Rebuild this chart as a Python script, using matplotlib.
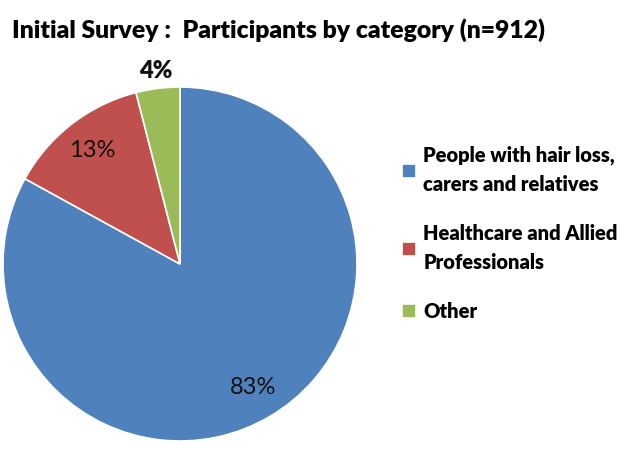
import matplotlib.pyplot as plt

categories = ['People with hair loss,\ncarers and relatives',
              'Healthcare and Allied\nProfessionals',
              'Other']
shares = [83, 13, 4]
colors = ['#4F81BD', '#C0504D', '#9BBB59']
title = 'Initial Survey :  Participants by category (n=912)'

W, H = 629, 455
fig = plt.figure(figsize=(W / 100, H / 100), dpi=100)
fig.patch.set_facecolor('white')

# pie centre and radius in pixels
cx, cy, r = 180, 264, 177
ax = fig.add_axes([(cx - r) / W, (H - cy - r) / H, 2 * r / W, 2 * r / H])

wedges, texts, autotexts = ax.pie(
    shares, colors=colors, startangle=90, counterclock=False,
    autopct='%d%%', pctdistance=0.81,
    wedgeprops=dict(edgecolor='white', linewidth=1.2),
    textprops=dict(fontsize=17, color='#111111', family='Lato'))
ax.set_xlim(-1, 1)
ax.set_ylim(-1, 1)
ax.set_aspect('equal')
ax.axis('off')

# small slice label sits outside
small = autotexts[2]
x, y = small.get_position()
small.set_position((x * 1.1 / 0.81, y * 1.1 / 0.81))
small.set_fontweight('heavy')
small.set_fontsize(17)

fig.text(12 / W, 1 - 30 / H, title, fontsize=17.8, fontweight='heavy',
         family='Lato', va='center', ha='left')

leg = fig.legend(wedges, categories, loc='upper left',
                 bbox_to_anchor=(402 / W, 1 - 146 / H), frameon=False,
                 prop=dict(family='Lato', weight='heavy', size=14.5),
                 handlelength=0.7, handleheight=0.7, handletextpad=0.35,
                 labelspacing=1.5, borderaxespad=0, borderpad=0)
for t in leg.get_texts():
    t.set_linespacing(1.6)

fig.savefig('out.png', dpi=100)
